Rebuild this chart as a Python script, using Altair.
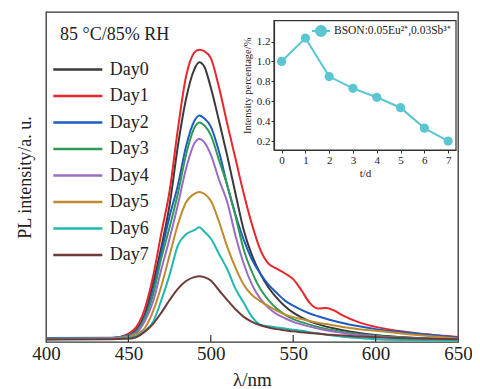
import altair as alt
import pandas as pd

# ---------------- data ----------------
wavelength = [400, 440, 445, 450, 455, 460, 465, 470, 475, 480, 485, 490, 493, 496, 500,
              505, 510, 515, 520, 525, 530, 535, 540, 545, 550, 555, 560, 565, 570, 575,
              580, 590, 600, 620, 650]

day0 = [0.012, 0.014, 0.017, 0.025, 0.045, 0.10, 0.21, 0.34, 0.49, 0.70, 0.87, 0.975, 1.0, 0.985, 0.91,
        0.79, 0.665, 0.53, 0.40, 0.31, 0.245, 0.195, 0.158, 0.128, 0.105, 0.088, 0.074, 0.064, 0.055, 0.048,
        0.042, 0.032, 0.025, 0.016, 0.010]
day1 = [0.010, 0.013, 0.018, 0.030, 0.055, 0.12, 0.235, 0.39, 0.54, 0.76, 0.95, 1.035, 1.045, 1.04, 1.015,
        0.91, 0.78, 0.655, 0.53, 0.42, 0.33, 0.28, 0.262, 0.245, 0.225, 0.185, 0.14, 0.12, 0.122, 0.112,
        0.095, 0.070, 0.054, 0.035, 0.018]
day2 = [0.014, 0.015, 0.018, 0.024, 0.040, 0.09, 0.185, 0.32, 0.45, 0.56, 0.70, 0.79, 0.81, 0.80, 0.77,
        0.68, 0.56, 0.455, 0.365, 0.295, 0.245, 0.205, 0.175, 0.148, 0.130, 0.115, 0.102, 0.092, 0.083, 0.075,
        0.068, 0.056, 0.046, 0.033, 0.016]
day3 = [0.012, 0.014, 0.017, 0.022, 0.038, 0.085, 0.17, 0.30, 0.41, 0.53, 0.67, 0.765, 0.785, 0.775, 0.74,
        0.65, 0.56, 0.45, 0.33, 0.25, 0.19, 0.15, 0.12, 0.098, 0.082, 0.071, 0.062, 0.054, 0.047, 0.041,
        0.036, 0.028, 0.022, 0.015, 0.010]
day4 = [0.012, 0.013, 0.016, 0.020, 0.033, 0.075, 0.145, 0.26, 0.37, 0.49, 0.62, 0.71, 0.726, 0.715, 0.67,
        0.58, 0.50, 0.38, 0.28, 0.205, 0.155, 0.122, 0.100, 0.085, 0.072, 0.063, 0.055, 0.048, 0.042, 0.037,
        0.032, 0.025, 0.020, 0.013, 0.009]
day5 = [0.011, 0.012, 0.014, 0.018, 0.028, 0.05, 0.11, 0.20, 0.31, 0.42, 0.50, 0.53, 0.536, 0.53, 0.505,
        0.43, 0.34, 0.265, 0.205, 0.168, 0.146, 0.128, 0.112, 0.098, 0.089, 0.082, 0.075, 0.069, 0.064, 0.059,
        0.054, 0.046, 0.040, 0.028, 0.012]
day6 = [0.010, 0.011, 0.012, 0.015, 0.022, 0.04, 0.072, 0.15, 0.24, 0.345, 0.385, 0.40, 0.41, 0.395, 0.37,
        0.315, 0.26, 0.19, 0.14, 0.09, 0.062, 0.056, 0.052, 0.048, 0.044, 0.040, 0.035, 0.030, 0.026, 0.022,
        0.019, 0.014, 0.010, 0.007, 0.005]
day7 = [0.009, 0.010, 0.011, 0.012, 0.018, 0.037, 0.065, 0.105, 0.15, 0.19, 0.218, 0.232, 0.235, 0.232, 0.22,
        0.185, 0.15, 0.117, 0.09, 0.072, 0.060, 0.052, 0.046, 0.042, 0.038, 0.035, 0.032, 0.030, 0.027, 0.025,
        0.023, 0.020, 0.017, 0.013, 0.010]

series_names = ["Day0", "Day1", "Day2", "Day3", "Day4", "Day5", "Day6", "Day7"]
series_values = [day0, day1, day2, day3, day4, day5, day6, day7]
series_colors = ["#3a3a3a", "#e8262b", "#1f5cbf", "#2e9a57", "#9a6cc6", "#c08a2e", "#1fb8b0", "#6e3b3b"]

x_ticks = [400, 450, 500, 550, 600, 650]
inner_ticks = [450, 500, 550, 600]
condition_label = "85 °C/85% RH"

inset_days = [0, 1, 2, 3, 4, 5, 6, 7]
inset_pct = [1.0, 1.235, 0.848, 0.73, 0.64, 0.535, 0.33, 0.20]
inset_label = "BSON:0.05Eu²⁺,0.03Sb³⁺"
inset_color = "#5bc5d2"
inset_y_ticks = [0.2, 0.4, 0.6, 0.8, 1.0, 1.2]
inset_x_dom = [-0.32, 7.33]
inset_y_dom = [0.11, 1.41]

FONT = "Liberation Serif"
INK = "#333333"

# ---------------- main spectra ----------------
rows = []
for name, vals in zip(series_names, series_values):
    for w, v in zip(wavelength, vals):
        rows.append({"wl": w, "I": v, "day": name})
spec = pd.DataFrame(rows)

xs_main = alt.Scale(domain=[400, 650], nice=False, zero=False)
ys_main = alt.Scale(domain=[0, 1.18], nice=False, zero=False)
x_axis_main = alt.Axis(orient="bottom", values=x_ticks, ticks=False, domain=False, grid=False,
                       labelFlush=False, labelOverlap=False,
                       labelFont=FONT, labelFontSize=19, labelColor="#222", labelPadding=2,
                       title="λ/nm", titleFont=FONT, titleFontSize=19, titleFontWeight="normal",
                       titleColor="#222", titlePadding=7)
y_axis_main = alt.Axis(orient="left", ticks=False, labels=False, domain=False, grid=False,
                       title="PL intensity/a. u.", titleFont=FONT, titleFontSize=18,
                       titleFontWeight="normal", titleColor="#222", titlePadding=12)

lines = alt.Chart(spec).mark_line(strokeWidth=2, interpolate="monotone").encode(
    x=alt.X("wl:Q", scale=xs_main, axis=x_axis_main),
    y=alt.Y("I:Q", scale=ys_main, axis=y_axis_main),
    color=alt.Color("day:N", scale=alt.Scale(domain=series_names, range=series_colors),
                    legend=alt.Legend(orient="none", legendX=22.3, legendY=48, title=None,
                                      symbolType="M-3,0H3", symbolSize=267, symbolStrokeWidth=2.5,
                                      labelFont=FONT, labelFontSize=18, labelColor="#222",
                                      labelOffset=22.4, rowPadding=7.5, padding=0)),
    order=alt.Order("wl:Q"),
)

tick_df = pd.DataFrame({"wl": inner_ticks})
tick_rules = alt.Chart(tick_df).mark_rule(color=INK, strokeWidth=1.2).encode(
    x=alt.X("wl:Q", scale=xs_main, axis=x_axis_main),
    y=alt.value(330), y2=alt.value(323),
)

cond_text = alt.Chart(pd.DataFrame({"t": [condition_label]})).mark_text(
    font=FONT, fontSize=18, align="left", baseline="middle", color="#222"
).encode(text="t:N", x=alt.value(14), y=alt.value(23))

main_layer = alt.layer(lines, tick_rules, cond_text)

# ---------------- inset ----------------
inset = pd.DataFrame({"day": inset_days, "pct": inset_pct, "series": [inset_label] * len(inset_days)})
xs_in = alt.Scale(domain=inset_x_dom, range=[228, 410], nice=False, zero=False)
ys_in = alt.Scale(domain=inset_y_dom, range=[138, 8.7], nice=False, zero=False)
x_axis_in = alt.Axis(orient="bottom", offset=-192, values=inset_days, grid=False, domain=True,
                     labelFlush=False,
                     domainColor=INK, domainWidth=1.2, tickColor=INK, tickSize=3, labelPadding=1,
                     labelFont=FONT, labelFontSize=11, labelColor="#222", title="t/d",
                     titleFont=FONT, titleFontSize=11, titleFontWeight="normal", titleColor="#222",
                     titlePadding=2)
y_axis_in = alt.Axis(orient="left", offset=-228, values=inset_y_ticks, format=".1f", grid=False,
                     labelFlush=False,
                     domain=True, domainColor=INK, domainWidth=1.2, tickColor=INK, tickSize=3,
                     labelPadding=1, labelFont=FONT, labelFontSize=11, labelColor="#222",
                     title="Intensity percentage/%", titleFont=FONT, titleFontSize=10.5,
                     titleFontWeight="normal", titleColor="#222", titlePadding=4)

frame_df = pd.DataFrame({"day": [inset_x_dom[0]], "day2": [inset_x_dom[1]],
                         "pct": [inset_y_dom[0]], "pct2": [inset_y_dom[1]]})
frame = alt.Chart(frame_df).mark_rect(fillOpacity=0, stroke=INK, strokeWidth=1.2).encode(
    x=alt.X("day:Q", scale=xs_in, axis=x_axis_in), x2="day2:Q",
    y=alt.Y("pct:Q", scale=ys_in, axis=y_axis_in), y2="pct2:Q",
)
in_line = alt.Chart(inset).mark_line(color=inset_color, strokeWidth=2).encode(
    x=alt.X("day:Q", scale=xs_in, axis=x_axis_in),
    y=alt.Y("pct:Q", scale=ys_in, axis=y_axis_in),
)
in_pts = alt.Chart(inset).mark_circle(size=85, opacity=1).encode(
    x=alt.X("day:Q", scale=xs_in, axis=x_axis_in),
    y=alt.Y("pct:Q", scale=ys_in, axis=y_axis_in),
    color=alt.Color("series:N", scale=alt.Scale(domain=[inset_label], range=[inset_color]),
                    legend=alt.Legend(orient="none", legendX=265, legendY=9, title=None,
                                      symbolType="M-1,0H1M-0.56,0A0.56,0.56,0,1,0,0.56,0A0.56,0.56,0,1,0,-0.56,0Z",
                                      symbolSize=324, symbolStrokeColor=inset_color, symbolStrokeWidth=2,
                                      symbolFillColor=inset_color,
                                      labelFont=FONT, labelFontSize=11.5, labelColor="#222",
                                      labelOffset=3, padding=0)),
)
inset_layer = alt.layer(frame, in_line, in_pts)

chart = alt.layer(main_layer, inset_layer).resolve_scale(
    x="independent", y="independent", color="independent"
).properties(
    width=412, height=330,
    autosize=alt.AutoSizeParams(type="none"),
    padding={"left": 38, "top": 4, "right": 14, "bottom": 47},
    background="white",
).configure_view(stroke=INK, strokeWidth=1.3)

chart.save("out.html", embed_options={"renderer": "svg", "actions": False})
